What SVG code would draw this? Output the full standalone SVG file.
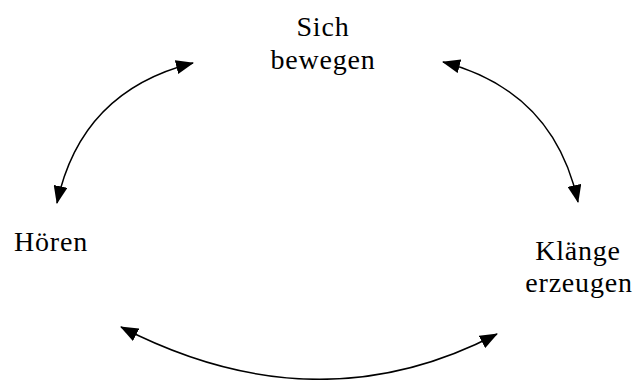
<svg xmlns="http://www.w3.org/2000/svg" width="640" height="380" viewBox="0 0 640 380">
<defs>
<style>
text{font-family:"Liberation Serif","Times New Roman",serif;font-size:28px;fill:#000;text-anchor:middle;letter-spacing:0.8px}
.c{fill:none;stroke:#000;stroke-width:1.5}
</style>
<marker id="ah" viewBox="0 0 18 14" refX="17" refY="7" markerWidth="18" markerHeight="14" markerUnits="userSpaceOnUse" orient="auto-start-reverse">
<path d="M0,0 L18,7 L0,14 Z" fill="#000"/>
</marker>
</defs>
<rect width="640" height="380" fill="#fff"/>
<g id="connectors">
<path class="c" d="M57,203 Q81,91 193,63" marker-start="url(#ah)" marker-end="url(#ah)"/>
<path class="c" d="M443,62 Q554,91 578,202" marker-start="url(#ah)" marker-end="url(#ah)"/>
<path class="c" d="M121,327 Q317,428 497,334" marker-start="url(#ah)" marker-end="url(#ah)"/>
</g>
<g id="sich-bewegen">
<text x="323" y="36">Sich</text>
<text x="323" y="69">bewegen</text>
</g>
<g id="hoeren">
<text x="51" y="251">Hören</text>
</g>
<g id="klaenge-erzeugen">
<text x="578" y="260">Klänge</text>
<text x="579" y="292">erzeugen</text>
</g>
</svg>
